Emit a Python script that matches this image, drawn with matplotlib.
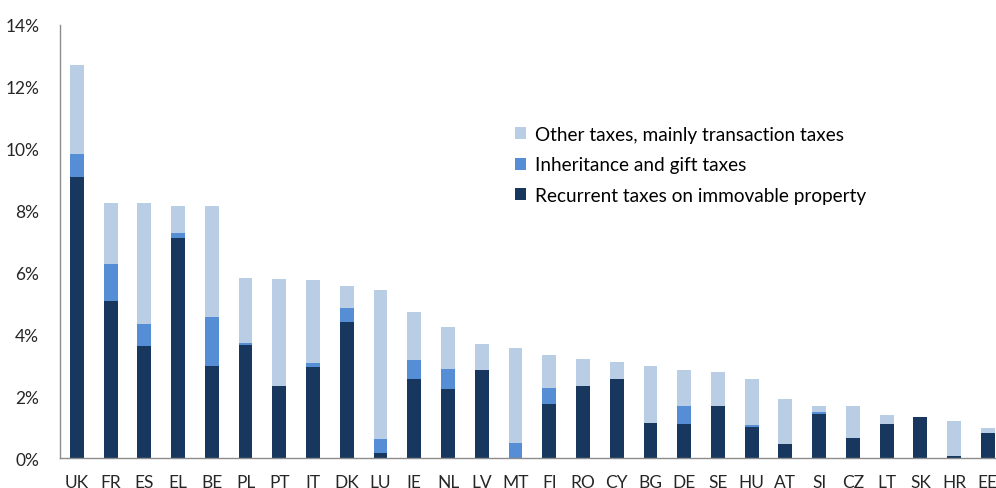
import numpy as np
import matplotlib
matplotlib.use("Agg")
import matplotlib.pyplot as plt
from matplotlib.ticker import FuncFormatter

plt.rcParams['font.family'] = ['Lato', 'DejaVu Sans']

# Property taxes, % of total taxation
countries = ['UK', 'FR', 'ES', 'EL', 'BE', 'PL', 'PT', 'IT', 'DK', 'LU',
             'IE', 'NL', 'LV', 'MT', 'FI', 'RO', 'CY', 'BG', 'DE', 'SE',
             'HU', 'AT', 'SI', 'CZ', 'LT', 'SK', 'HR', 'EE']
recurrent = [9.08, 5.09, 3.62, 7.12, 2.98, 3.66, 2.32, 2.95, 4.40, 0.18,
             2.56, 2.24, 2.85, 0.00, 1.74, 2.34, 2.56, 1.13, 1.10, 1.70,
             1.01, 0.46, 1.42, 0.65, 1.10, 1.34, 0.08, 0.81]
inheritance = [0.73, 1.18, 0.72, 0.14, 1.57, 0.06, 0.01, 0.13, 0.45, 0.43,
               0.62, 0.65, 0.00, 0.49, 0.54, 0.00, 0.00, 0.00, 0.58, 0.00,
               0.07, 0.00, 0.06, 0.00, 0.00, 0.00, 0.00, 0.00]
other = [2.89, 1.97, 3.90, 0.90, 3.59, 2.10, 3.47, 2.68, 0.72, 4.82,
         1.53, 1.36, 0.83, 3.07, 1.06, 0.87, 0.54, 1.85, 1.18, 1.08,
         1.47, 1.44, 0.22, 1.03, 0.31, 0.00, 1.11, 0.17]

c_rec = '#17375E'
c_inh = '#558ED5'
c_oth = '#B9CDE5'

fig = plt.figure(figsize=(9.96, 4.89), dpi=100)
W, H = 996, 489
# axes extends a bit past the right edge, like the original
ax = fig.add_axes([60 / W, (H - 459.3) / H, 944.7 / W, (459.3 - 25.7) / H])

x = np.arange(len(countries))
rec = np.array(recurrent)
inh = np.array(inheritance)
oth = np.array(other)
w = 0.41

b1 = ax.bar(x, rec, w, color=c_rec, label='Recurrent taxes on immovable property')
b2 = ax.bar(x, inh, w, bottom=rec, color=c_inh, label='Inheritance and gift taxes')
b3 = ax.bar(x, oth, w, bottom=rec + inh, color=c_oth,
            label='Other taxes, mainly transaction taxes')

ax.set_xlim(-0.5, len(countries) - 0.5)
ax.set_ylim(0, 14)
ax.set_yticks(np.arange(0, 15, 2))
ax.yaxis.set_major_formatter(FuncFormatter(lambda v, p: f'{v:.0f}%'))
ax.set_xticks(x)
ax.set_xticklabels(countries)
ax.tick_params(axis='both', length=0, labelsize=12.5, colors='#262626')
ax.tick_params(axis='x', pad=11)
ax.tick_params(axis='y', pad=15)

for s in ['top', 'right']:
    ax.spines[s].set_visible(False)
for s in ['left', 'bottom']:
    ax.spines[s].set_color('#8C8C8C')
    ax.spines[s].set_linewidth(1)

ax.legend(handles=[b3, b2, b1], loc='upper left',
          bbox_to_anchor=(447 / 944.7, (459.3 - 119) / (459.3 - 25.7)),
          frameon=False, fontsize=13.7, handlelength=0.6, handleheight=0.6,
          handletextpad=0.45, labelspacing=0.72, borderaxespad=0)

fig.savefig('out.png', dpi=100)
